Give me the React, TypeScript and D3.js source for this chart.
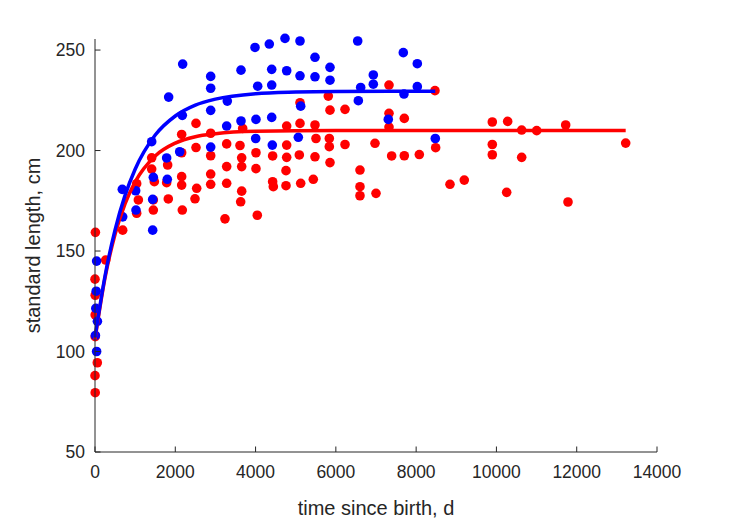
import React from "react";
import * as d3 from "d3";

// time since birth (d) and standard length (cm), blue series
const blueT = [40, 30, 20, 60, 10, 40, 680, 690, 1013, 1021, 1453, 1437, 1437, 1801, 2184, 1835, 2882, 2882, 3637, 2175, 3296, 2882, 3637, 3280, 2882, 1412, 1785, 2110, 3986, 4342, 4733, 5107, 5480, 4402, 4775, 5107, 5480, 5854, 5854, 4053, 4402, 6544, 6618, 6933, 6933, 6560, 5124, 4010, 4402, 4003, 5065, 4417, 7680, 8029, 7697, 8029, 7306, 8477];
const blueL = [145, 130, 121.5, 115, 108, 100, 180.7, 167, 180, 170.4, 186.7, 175.7, 160.4, 185.7, 243, 226.6, 236.9, 231, 240, 217.5, 224.6, 220, 214.7, 212.2, 201.7, 204.4, 196.3, 199.4, 251.3, 253, 255.8, 254.5, 246.4, 240.4, 239.7, 237.2, 236.7, 241.4, 235, 232, 232.6, 254.5, 231.4, 237.6, 233, 224.8, 222.1, 215.5, 216.5, 206, 206.6, 202.7, 248.7, 243.2, 228.1, 231.8, 215.5, 206];

// red series
const redT = [10, 0, 5, 5, 5, 57, 0, 5, 266, 690, 1038, 1080, 1038, 1453, 1478, 1412, 1412, 1453, 1810, 1785, 1826, 2159, 2159, 2175, 2491, 2533, 2159, 2159, 2516, 2516, 2882, 2882, 2882, 2882, 3280, 3280, 3280, 3238, 3612, 3654, 3654, 3654, 3629, 3679, 4010, 4010, 4043, 4425, 4425, 4442, 4775, 4775, 4775, 4758, 4758, 5107, 5107, 5090, 5124, 5438, 5480, 5480, 5505, 5812, 5854, 5837, 5837, 5854, 6228, 6228, 6601, 6601, 6601, 6975, 7000, 7324, 7324, 7324, 7390, 7705, 7705, 8079, 8469, 8486, 8843, 9199, 9897, 9897, 9897, 10280, 10255, 10629, 10629, 11003, 11725, 11783, 13220];
const redL = [159.3, 136, 128, 118.2, 107.4, 94.4, 88, 79.5, 145.5, 160.4, 168.8, 175.4, 183.5, 170.4, 184.5, 190.8, 196.4, 175.4, 192.8, 184, 175.9, 187, 182.8, 170.4, 176, 181.2, 208, 198.9, 213.5, 201.5, 208.6, 197.4, 188.3, 183.2, 203.3, 192, 183.7, 166, 202.5, 196.4, 192, 179.8, 174.5, 211, 198.9, 191, 167.8, 197.3, 184.5, 182, 212.2, 202.7, 196.6, 190, 182.5, 223.8, 213.5, 197.8, 183.7, 185.7, 212.7, 196.9, 206, 227.1, 220.1, 206, 201.9, 194, 220.5, 203, 190.3, 182, 177.5, 203.6, 178.7, 232.6, 218.5, 211.7, 197.3, 216, 197.4, 198, 229.8, 201.4, 183.2, 185.3, 214.2, 203, 197.9, 214.5, 179.2, 210.2, 196.6, 209.9, 212.7, 174.4, 203.7];

// fitted growth curves
const blueFitT = [0, 250, 500, 750, 1000, 1500, 2000, 2500, 3000, 4000, 5000, 6000, 8477];
const blueFitL = [107, 137.6, 160.5, 177.8, 190.7, 207.7, 217.2, 222.6, 225.6, 228.3, 229.1, 229.4, 229.5];
const redFitT = [0, 250, 500, 750, 1000, 1500, 2000, 2500, 3000, 4000, 6000, 13220];
const redFitL = [106, 136.7, 158.3, 173.6, 184.4, 197.3, 203.7, 206.9, 208.4, 209.6, 210, 210];

const xTicks = [0, 2000, 4000, 6000, 8000, 10000, 12000, 14000];
const yTicks = [50, 100, 150, 200, 250];

const W = 729;
const H = 521;
const left = 95;
const right = 657;
const top = 39;
const bottom = 452;
const axisColor = "#262626";
const font = "'Liberation Sans', Arial, Helvetica, sans-serif";

export default function App() {
  const x = d3.scaleLinear().domain([0, 14000]).range([left, right]);
  const y = d3.scaleLinear().domain([50, 255.5]).range([bottom, top]);
  const line = d3
    .line<[number, number]>()
    .x((d) => x(d[0]))
    .y((d) => y(d[1]))
    .curve(d3.curveMonotoneX);
  const blueFit = line(blueFitT.map((t, i) => [t, blueFitL[i]]) as [number, number][]) || "";
  const redFit = line(redFitT.map((t, i) => [t, redFitL[i]]) as [number, number][]) || "";

  return (
    <svg
      width={W}
      height={H}
      style={{ position: "absolute", left: 0, top: 0, background: "#fff" }}
      fontFamily={font}
    >
      <rect x={0} y={0} width={W} height={H} fill="#fff" />
      {/* red points */}
      {redT.map((t, i) => (
        <circle key={"r" + i} cx={x(t)} cy={y(redL[i])} r={4.8} fill="#ff0000" />
      ))}
      {/* blue points */}
      {blueT.map((t, i) => (
        <circle key={"b" + i} cx={x(t)} cy={y(blueL[i])} r={4.8} fill="#0000ff" />
      ))}
      <path d={redFit} fill="none" stroke="#ff0000" strokeWidth={3.5} />
      <path d={blueFit} fill="none" stroke="#0000ff" strokeWidth={3.5} />

      {/* axes */}
      <line x1={left} x2={left} y1={top} y2={bottom} stroke={axisColor} strokeWidth={1} />
      <line x1={left} x2={right} y1={bottom} y2={bottom} stroke={axisColor} strokeWidth={1} />
      {xTicks.map((t) => (
        <g key={"xt" + t}>
          <line x1={x(t)} x2={x(t)} y1={bottom} y2={bottom - 5.5} stroke={axisColor} />
          <text
            x={x(t)}
            y={bottom + 26}
            textAnchor="middle"
            fontSize={17.5}
            fill={axisColor}
          >
            {t}
          </text>
        </g>
      ))}
      {yTicks.map((t) => (
        <g key={"yt" + t}>
          <line x1={left} x2={left + 5.5} y1={y(t)} y2={y(t)} stroke={axisColor} />
          <text
            x={left - 10}
            y={y(t)}
            dy="0.36em"
            textAnchor="end"
            fontSize={17.5}
            fill={axisColor}
          >
            {t}
          </text>
        </g>
      ))}
      <text
        x={(left + right) / 2}
        y={bottom + 63}
        textAnchor="middle"
        fontSize={20}
        fill={axisColor}
      >
        time since birth, d
      </text>
      <text
        transform={`translate(${40},${(top + bottom) / 2}) rotate(-90)`}
        textAnchor="middle"
        fontSize={20}
        fill={axisColor}
      >
        standard length, cm
      </text>
    </svg>
  );
}
